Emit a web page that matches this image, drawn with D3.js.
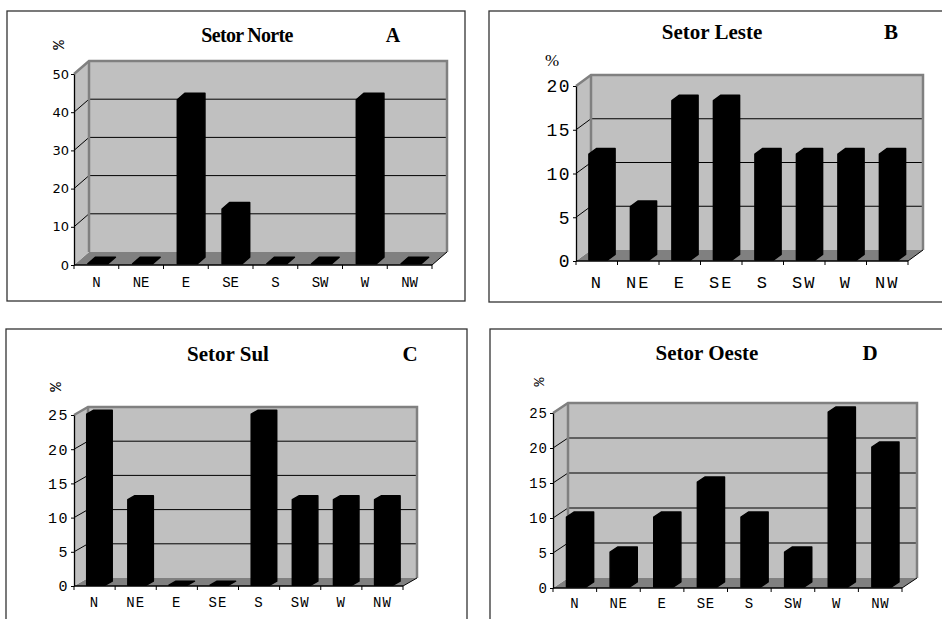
<!DOCTYPE html>
<html>
<head>
<meta charset="utf-8">
<script src="https://cdn.jsdelivr.net/npm/d3@7"></script>
<style>
  body { margin: 0; background: #fff; }
  svg { display: block; }
</style>
</head>
<body>
<script>
// wind direction frequency per sector (%)
const directions = ['N', 'NE', 'E', 'SE', 'S', 'SW', 'W', 'NW'];
const norte = [0, 0, 42.9, 14.3, 0, 0, 42.9, 0];
const leste = [12.1, 6.1, 18.2, 18.2, 12.1, 12.1, 12.1, 12.1];
const sul = [25, 12.5, 0, 0, 25, 12.5, 12.5, 12.5];
const oeste = [10, 5, 10, 15, 10, 5, 25, 20];
const titles = ['Setor Norte', 'Setor Leste', 'Setor Sul', 'Setor Oeste'];
const letters = ['A', 'B', 'C', 'D'];
const yMax = [50, 20, 25, 25];
const yStep = [10, 5, 5, 5];

const width = 942, height = 619;
const mono = "'Courier New', Courier, 'Liberation Mono', monospace";

let svg = d3.select('body').append('svg')
    .attr('width', width)
    .attr('height', height);

// layout of each panel (box, plot front plane, depth offset, fonts)
let panels = [
  { values: norte, box: [7, 11, 458, 290], x0: 74, x1: 432, yF: 265, yT: 74, dx: 15, dy: -13,
    titleX: 247, titleY: 42, titleSize: 20, titleSpacing: -0.7, letterX: 393,
    pctX: 60, pctY: 45, pctRot: true, pctFont: mono, pctSize: 16,
    yFont: 'DejaVu Sans', ySize: 13, ySpacing: 0, xSize: 14, xSpacing: 0, xY: 287 },
  { values: leste, box: [489, 11, 470, 291], x0: 576, x1: 908, yF: 261, yT: 86, dx: 15, dy: -11,
    titleX: 712, titleY: 39, titleSize: 21, titleSpacing: 0, letterX: 891,
    pctX: 552, pctY: 60, pctRot: false, pctFont: 'Liberation Serif', pctSize: 17,
    yFont: mono, ySize: 18, ySpacing: 1.5, xSize: 17, xSpacing: 2, xY: 288 },
  { values: sul, box: [6, 329, 461, 300], x0: 74, x1: 403, yF: 586, yT: 415, dx: 14, dy: -8,
    titleX: 228, titleY: 361, titleSize: 21, titleSpacing: 0, letterX: 410,
    pctX: 57, pctY: 387, pctRot: true, pctFont: mono, pctSize: 16,
    yFont: mono, ySize: 15, ySpacing: 1.5, xSize: 14, xSpacing: 1, xY: 607 },
  { values: oeste, box: [490, 329, 470, 300], x0: 553, x1: 902, yF: 588, yT: 413, dx: 15, dy: -10,
    titleX: 707, titleY: 360, titleSize: 21, titleSpacing: 0, letterX: 870,
    pctX: 540, pctY: 382, pctRot: true, pctFont: mono, pctSize: 15,
    yFont: mono, ySize: 14, ySpacing: 1, xSize: 14, xSpacing: 0.5, xY: 608 }
];

panels.forEach((p, i) => drawPanel(p, i));

function drawPanel(p, i) {
  let g = svg.append('g');

  g.append('rect')
    .attr('x', p.box[0]).attr('y', p.box[1])
    .attr('width', p.box[2]).attr('height', p.box[3])
    .attr('fill', 'none').attr('stroke', '#333').attr('stroke-width', 1.3);

  let y = d3.scaleLinear().domain([0, yMax[i]]).range([p.yF, p.yT]);
  let x = d3.scaleBand().domain(directions).range([p.x0, p.x1]);
  let ticks = d3.range(0, yMax[i] + 0.001, yStep[i]);

  let pt = (xx, v, t) => [xx + t * p.dx, y(v) + t * p.dy];
  let line = d3.line();

  // floor
  g.append('path')
    .attr('d', line([pt(p.x0, 0, 0), pt(p.x1, 0, 0), pt(p.x1, 0, 1), pt(p.x0, 0, 1)]) + 'Z')
    .attr('fill', '#808080');

  // left wall
  g.append('path')
    .attr('d', line([pt(p.x0, 0, 0), pt(p.x0, yMax[i], 0), pt(p.x0, yMax[i], 1), pt(p.x0, 0, 1)]) + 'Z')
    .attr('fill', '#c0c0c0');

  // back wall
  g.append('path')
    .attr('d', line([pt(p.x0, 0, 1), pt(p.x0, yMax[i], 1), pt(p.x1, yMax[i], 1), pt(p.x1, 0, 1)]) + 'Z')
    .attr('fill', '#c0c0c0');

  // gridlines on walls
  let inner = ticks.filter(v => v > 0 && v < yMax[i]);
  g.selectAll('path.grid').data(inner)
    .join('path')
    .attr('class', 'grid')
    .attr('d', v => line([pt(p.x0, v, 0), pt(p.x0, v, 1), pt(p.x1, v, 1)]))
    .attr('fill', 'none').attr('stroke', '#000').attr('stroke-width', 1);

  // wall outlines
  g.append('path')
    .attr('d', line([pt(p.x0, yMax[i], 0), pt(p.x0, yMax[i], 1), pt(p.x1, yMax[i], 1), pt(p.x1, 0, 1)]))
    .attr('fill', 'none').attr('stroke', '#808080').attr('stroke-width', 2.5);
  g.append('path')
    .attr('d', line([pt(p.x0, 0, 1), pt(p.x0, yMax[i], 1)]))
    .attr('fill', 'none').attr('stroke', '#808080').attr('stroke-width', 2.5);

  // bars
  let bw = x.bandwidth() * 0.45;
  let t0 = 0.1, t1 = 0.6;
  g.selectAll('path.bar').data(p.values)
    .join('path')
    .attr('class', 'bar')
    .attr('d', (v, j) => {
      let xb = x(directions[j]) + (x.bandwidth() - bw) / 2;
      return line([pt(xb, 0, t0), pt(xb, v, t0), pt(xb, v, t1), pt(xb + bw, v, t1),
                   pt(xb + bw, 0, t1), pt(xb + bw, 0, t0)]) + 'Z';
    })
    .attr('fill', '#000').attr('stroke', '#000').attr('stroke-width', 1.5)
    .attr('stroke-linejoin', 'round');

  // floor right edge
  g.append('path')
    .attr('d', line([pt(p.x1, 0, 0), pt(p.x1, 0, 1)]))
    .attr('stroke', '#000').attr('stroke-width', 1);

  // y axis on front plane
  let yAxis = g.append('g')
    .attr('transform', `translate(${p.x0},0)`)
    .call(d3.axisLeft(y).tickValues(ticks).tickSize(3).tickSizeOuter(0).tickPadding(2));
  yAxis.select('.domain').attr('stroke', '#000').attr('stroke-width', 1.3);
  yAxis.selectAll('text')
    .style('font-family', p.yFont).style('font-size', p.ySize + 'px')
    .style('letter-spacing', p.ySpacing + 'px')
    .attr('fill', '#000');

  // x axis along floor front
  g.append('line')
    .attr('x1', p.x0).attr('x2', p.x1).attr('y1', p.yF).attr('y2', p.yF)
    .attr('stroke', '#000').attr('stroke-width', 1.3);
  let bounds = directions.map(d => x(d)).concat([p.x1]);
  g.selectAll('line.xtick').data(bounds)
    .join('line')
    .attr('class', 'xtick')
    .attr('x1', d => d).attr('x2', d => d)
    .attr('y1', p.yF).attr('y2', p.yF + 4)
    .attr('stroke', '#000');
  g.selectAll('text.xlab').data(directions)
    .join('text')
    .attr('class', 'xlab')
    .attr('x', d => x(d) + x.bandwidth() / 2)
    .attr('y', p.xY)
    .attr('text-anchor', 'middle')
    .style('font-family', mono)
    .style('font-size', p.xSize + 'px')
    .style('letter-spacing', p.xSpacing + 'px')
    .text(d => d);

  // title and panel letter
  g.append('text')
    .attr('x', p.titleX).attr('y', p.titleY)
    .attr('text-anchor', 'middle')
    .style('font-family', 'Liberation Serif').style('font-weight', 'bold')
    .style('font-size', p.titleSize + 'px')
    .style('letter-spacing', p.titleSpacing + 'px')
    .text(titles[i]);
  g.append('text')
    .attr('x', p.letterX).attr('y', p.titleY)
    .attr('text-anchor', 'middle')
    .style('font-family', 'Liberation Serif').style('font-weight', 'bold')
    .style('font-size', p.titleSize + 'px')
    .text(letters[i]);

  // unit label
  g.append('text')
    .attr('transform', `translate(${p.pctX},${p.pctY}) rotate(${p.pctRot ? -90 : 0})`)
    .attr('text-anchor', 'middle')
    .attr('dominant-baseline', 'central')
    .style('font-family', p.pctFont)
    .style('font-size', p.pctSize + 'px')
    .text('%');
}
</script>
</body>
</html>
